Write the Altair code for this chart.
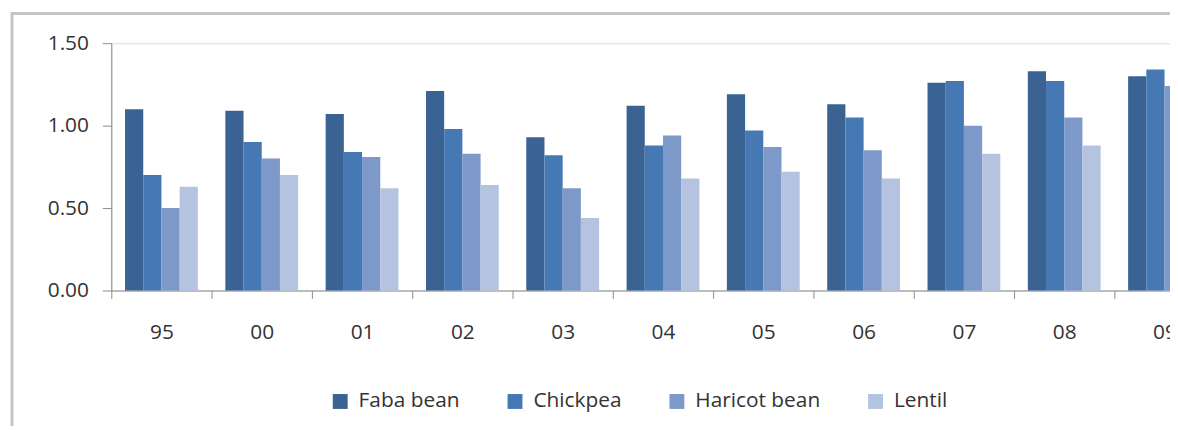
import altair as alt
import pandas as pd

years = ["95", "00", "01", "02", "03", "04", "05", "06", "07", "08", "09"]
crops = ["Faba bean", "Chickpea", "Haricot bean", "Lentil"]
faba = [1.10, 1.09, 1.07, 1.21, 0.93, 1.12, 1.19, 1.13, 1.26, 1.33, 1.30]
chickpea = [0.70, 0.90, 0.84, 0.98, 0.82, 0.88, 0.97, 1.05, 1.27, 1.27, 1.34]
haricot = [0.50, 0.80, 0.81, 0.83, 0.62, 0.94, 0.87, 0.85, 1.00, 1.05, 1.24]
lentil = [0.63, 0.70, 0.62, 0.64, 0.44, 0.68, 0.72, 0.68, 0.83, 0.88, 0.95]
colors = ["#3A6394", "#4678B4", "#7D99C9", "#B4C4E0"]

series = {"Faba bean": faba, "Chickpea": chickpea, "Haricot bean": haricot, "Lentil": lentil}
rows = []
for c in crops:
    for y, v in zip(years, series[c]):
        rows.append({"Year": y, "Crop": c, "Value": v})
df = pd.DataFrame(rows)

FONT = "Open Sans"
FS = 21
TXT = "#333333"
AX = "#8c8c8c"

bars = alt.Chart(df).mark_bar().encode(
    x=alt.X(
        "Year:N",
        sort=years,
        scale=alt.Scale(range=[0, 1111], paddingInner=0, paddingOuter=0),
        axis=alt.Axis(
            title=None, labelAngle=0, tickBand="extent", tickSize=8,
            tickColor=AX, domainColor=AX, labelPadding=23, labelFontSize=FS,
            labelColor=TXT, labelFont=FONT, grid=False,
        ),
    ),
    xOffset=alt.XOffset("Crop:N", sort=crops,
                        scale=alt.Scale(paddingInner=0, paddingOuter=0.755)),
    y=alt.Y(
        "Value:Q",
        scale=alt.Scale(domain=[0, 1.5], nice=False),
        axis=alt.Axis(
            title=None, values=[0, 0.5, 1.0, 1.5], format=".2f", grid=False,
            tickSize=9, tickColor=AX, domainColor=AX, labelPadding=14,
            labelFontSize=FS, labelColor=TXT, labelFont=FONT,
        ),
    ),
    color=alt.Color(
        "Crop:N",
        sort=crops,
        scale=alt.Scale(domain=crops, range=colors),
        legend=alt.Legend(
            title=None, orient="none", legendX=220, legendY=350,
            direction="horizontal", symbolType="square", symbolSize=225,
            symbolStrokeWidth=0, labelFontSize=FS, labelColor=TXT,
            labelFont=FONT, columnPadding=45, labelOffset=8, padding=0,
        ),
    ),
)

frame = alt.Chart(alt.Data(values=[{"k": 1}])).mark_rect(
    fill=None, stroke="#c4c4c4", strokeWidth=3
).encode(
    x=alt.value(-100), x2=alt.value(1200), y=alt.value(-30), y2=alt.value(600)
)

chart = alt.layer(frame, bars).properties(
    width=1066, height=249,
    autosize=alt.AutoSizeParams(type="none"),
    padding={"left": 104, "top": 34, "right": 0, "bottom": 135},
).configure_view(stroke=None).configure(background="white")

chart.save("out.html", embed_options={"renderer": "svg", "actions": False})
